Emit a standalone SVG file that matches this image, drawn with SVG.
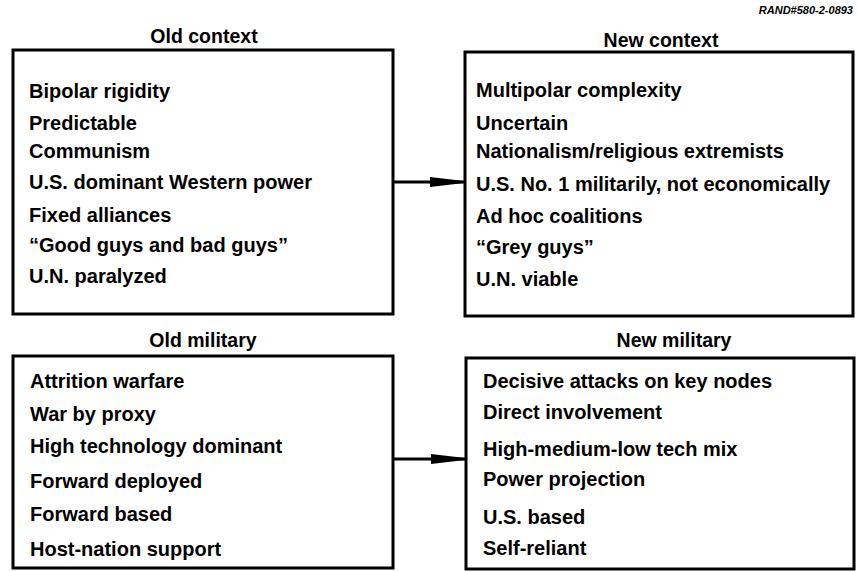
<svg xmlns="http://www.w3.org/2000/svg" width="857" height="571" viewBox="0 0 857 571">
<defs>
<style>
.box{fill:none;stroke:#000;stroke-width:3}
.t{font-family:"Liberation Sans",Arial,sans-serif;font-weight:bold;font-size:20px;fill:#000}
.h{font-family:"Liberation Sans",Arial,sans-serif;font-weight:bold;font-size:19.5px;fill:#000;text-anchor:middle}
.id{font-family:"Liberation Sans",Arial,sans-serif;font-weight:bold;font-style:italic;font-size:11px;fill:#000;text-anchor:end}
.conn{stroke:#000;stroke-width:3;fill:none}
</style>
<marker id="arr" markerUnits="userSpaceOnUse" markerWidth="36" markerHeight="16" refX="34" refY="8" orient="auto">
<path d="M0,3 L34,7 L34,9 L0,13 Z" fill="#000"/>
</marker>
</defs>
<rect width="857" height="571" fill="#fff"/>
<text class="id" x="853" y="14">RAND#580-2-0893</text>

<g id="old-context">
<text class="h" x="204" y="43">Old context</text>
<rect class="box" x="13" y="50" width="380" height="264"/>
<text class="t" x="29" y="98">Bipolar rigidity</text>
<text class="t" x="29" y="130">Predictable</text>
<text class="t" x="29" y="158">Communism</text>
<text class="t" x="29" y="189">U.S. dominant Western power</text>
<text class="t" x="29" y="222">Fixed alliances</text>
<text class="t" x="29" y="252">“Good guys and bad guys”</text>
<text class="t" x="29" y="283">U.N. paralyzed</text>
</g>

<g id="new-context">
<text class="h" x="661" y="47">New context</text>
<rect class="box" x="465" y="52" width="388" height="264"/>
<text class="t" x="476" y="97">Multipolar complexity</text>
<text class="t" x="476" y="130">Uncertain</text>
<text class="t" x="476" y="158">Nationalism/religious extremists</text>
<text class="t" x="476" y="191">U.S. No. 1 militarily, not economically</text>
<text class="t" x="476" y="223">Ad hoc coalitions</text>
<text class="t" x="476" y="254">“Grey guys”</text>
<text class="t" x="476" y="286">U.N. viable</text>
</g>

<g id="old-military">
<text class="h" x="203" y="347">Old military</text>
<rect class="box" x="13" y="356" width="380" height="212"/>
<text class="t" x="30" y="388">Attrition warfare</text>
<text class="t" x="30" y="421">War by proxy</text>
<text class="t" x="30" y="453">High technology dominant</text>
<text class="t" x="30" y="488">Forward deployed</text>
<text class="t" x="30" y="521">Forward based</text>
<text class="t" x="30" y="556">Host-nation support</text>
</g>

<g id="new-military">
<text class="h" x="674" y="347">New military</text>
<rect class="box" x="466" y="358" width="388" height="211"/>
<text class="t" x="483" y="388">Decisive attacks on key nodes</text>
<text class="t" x="483" y="419">Direct involvement</text>
<text class="t" x="483" y="456">High-medium-low tech mix</text>
<text class="t" x="483" y="486">Power projection</text>
<text class="t" x="483" y="524">U.S. based</text>
<text class="t" x="483" y="555">Self-reliant</text>
</g>

<g id="connectors">
<line class="conn" x1="393" y1="182" x2="464" y2="182" marker-end="url(#arr)"/>
<line class="conn" x1="393" y1="459" x2="465" y2="459" marker-end="url(#arr)"/>
</g>
</svg>
